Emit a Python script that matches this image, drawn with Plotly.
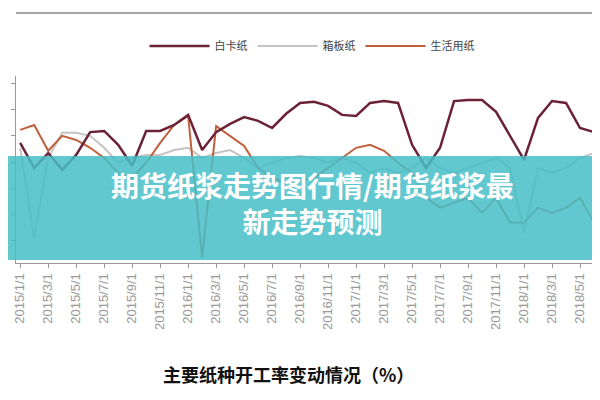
import plotly.graph_objects as go

# monthly, 2015/1 .. 2018/7
months = [f"{2015 + i // 12}/{i % 12 + 1}/1" for i in range(43)]

baika = [82.1, 75.4, 79.4, 74.9, 78.9, 85.0, 85.3, 81.6, 76.0, 85.3, 85.3, 86.9, 89.6, 80.2, 85.0,
         87.2, 89.0, 88.0, 86.1, 89.9, 92.8, 93.1, 92.0, 89.6, 89.3, 92.8, 93.3, 92.8, 81.6, 75.4,
         80.8, 93.3, 93.6, 93.6, 90.4, 84.0, 77.6, 88.8, 93.3, 92.8, 86.1, 85.0, 85.6]
xiangban = [80.8, 56.7, 78.1, 84.8, 84.8, 84.0, 80.8, 76.8, 78.1, 78.9, 78.9, 80.2, 80.8, 78.1, 79.4,
            80.2, 78.1, 75.4, 76.8, 78.1, 78.6, 78.1, 76.8, 78.1, 76.8, 74.1, 75.4, 74.1, 75.4, 78.1,
            75.4, 74.1, 75.4, 76.8, 78.1, 75.4, 58.1, 75.4, 74.1, 75.4, 78.1, 79.4, 72.8]
shenghuo = [85.6, 86.9, 80.0, 84.0, 82.9, 80.8, 78.1, 74.1, 72.8, 76.8, 82.1, 86.9, 89.3, 51.4, 86.6,
            84.0, 81.3, 75.4, 72.8, 71.4, 72.2, 72.8, 75.4, 78.1, 80.8, 81.6, 80.0, 76.8, 74.1, 67.4,
            64.8, 66.1, 67.4, 63.4, 67.4, 60.8, 60.8, 64.8, 63.4, 64.8, 67.4, 60.8, 58.1]

x = list(range(len(months)))
fig = go.Figure()
fig.add_trace(go.Scatter(x=x, y=xiangban, name="箱板纸", mode="lines",
                         line=dict(color="#c4c4c4", width=2), legendrank=2))
fig.add_trace(go.Scatter(x=x, y=shenghuo, name="生活用纸", mode="lines",
                         line=dict(color="#c0603a", width=2), legendrank=3))
fig.add_trace(go.Scatter(x=x, y=baika, name="白卡纸", mode="lines",
                         line=dict(color="#6b2236", width=2.5), legendrank=1))

fig.update_layout(
    width=600, height=400,
    margin=dict(l=8, r=0, t=68, b=145),
    paper_bgcolor="white", plot_bgcolor="white",
    font=dict(family="Noto Sans CJK SC", color="#555"),
    legend=dict(orientation="h", x=0.5, xanchor="center", y=1.16, yanchor="middle",
                font=dict(size=11, color="#444"), itemwidth=60),
    xaxis=dict(range=[-0.3, 42], tickvals=x[::2], ticktext=months[::2], tickangle=-90,
               tickfont=dict(family="Liberation Sans", size=13, color="#999"),
               showline=True, linecolor="#999", ticks="outside", ticklen=4, tickcolor="#999",
               showgrid=False, zeroline=False),
    yaxis=dict(range=[50, 100], showticklabels=False, showline=True, linecolor="#999",
               ticks="outside", ticklen=4, tickcolor="#999", dtick=7, showgrid=False, zeroline=False),
)

fig.add_shape(type="line", xref="paper", yref="paper", x0=0, x1=1, y0=1.337, y1=1.337,
              line=dict(color="#888", width=1.5))
fig.add_shape(type="rect", xref="paper", yref="paper", x0=-0.02, x1=1.01, y0=0.016, y1=0.572,
              fillcolor="rgba(70,190,200,0.85)", line_width=0, layer="above")
fig.add_annotation(xref="paper", yref="paper", x=0.5, y=0.32, showarrow=False,
                   text="<b>期货纸浆走势图行情/期货纸浆最<br>新走势预测</b>",
                   font=dict(size=28, color="white", family="Noto Sans CJK SC"),
                   yanchor="middle", align="center")
fig.add_annotation(xref="paper", yref="paper", x=0.46, y=-0.675, showarrow=False,
                   text="<b>主要纸种开工率变动情况（%）</b>",
                   font=dict(size=18, color="#111", family="Noto Sans CJK SC"))
fig.write_html("out.html")
